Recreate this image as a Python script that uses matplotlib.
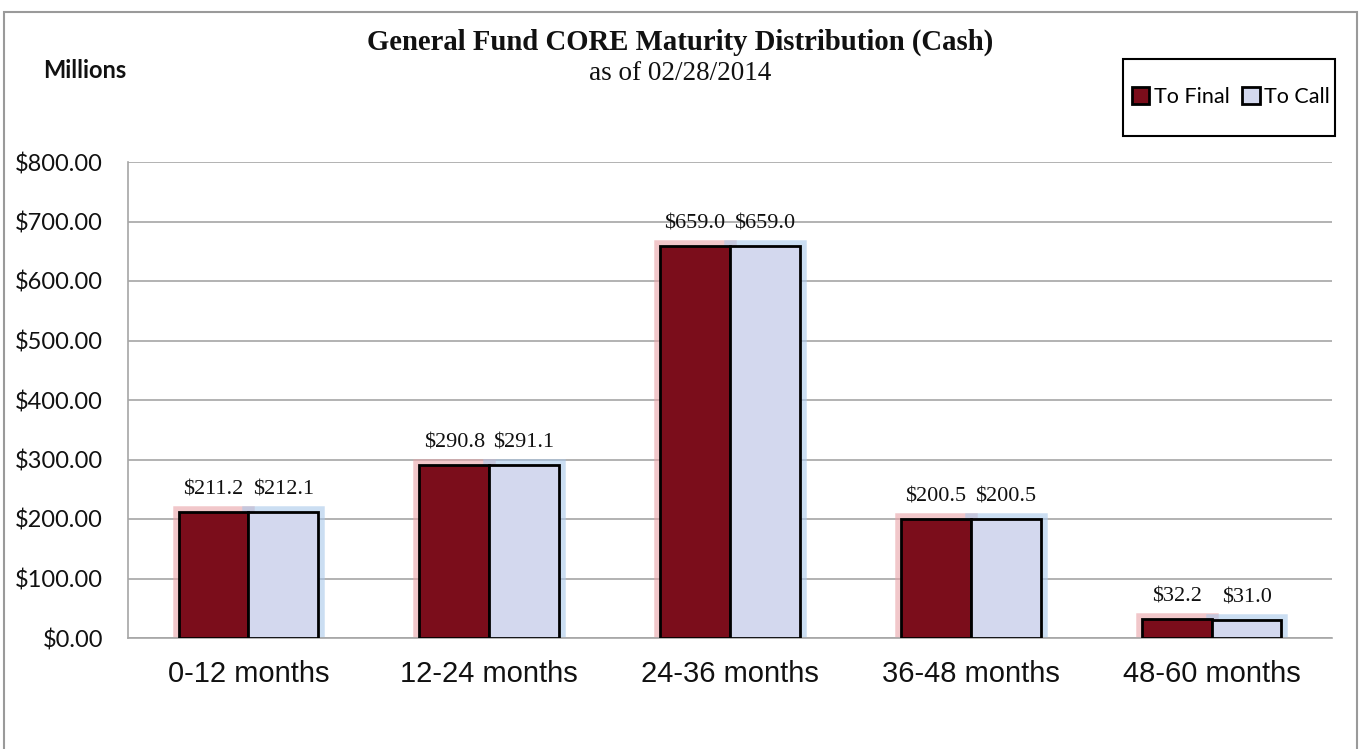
import numpy as np
import matplotlib
matplotlib.use("Agg")
import matplotlib.pyplot as plt
from matplotlib.patches import Rectangle
from matplotlib.ticker import StrMethodFormatter

# chart data (millions)
categories = ["0-12 months", "12-24 months", "24-36 months", "36-48 months", "48-60 months"]
to_final = [211.2, 290.8, 659.0, 200.5, 32.2]
to_call = [212.1, 291.1, 659.0, 200.5, 31.0]
series_names = ["To Final", "To Call"]

red = "#7B0D1B"
lavender = "#D3D8EE"
red_glow = "#E9A3A8"
blue_glow = "#A9C8EA"
grid_grey = "#A6A6A6"

W, H = 1365, 749
fig = plt.figure(figsize=(W / 100, H / 100), dpi=100)
fig.patch.set_facecolor("white")

ax = fig.add_axes([128 / W, 1 - 638 / H, 1204 / W, 476 / H])

x = np.arange(len(categories))
width = 0.29

# soft glow behind each bar
ax.bar(x - width / 2, to_final, width, color="none", edgecolor=red_glow,
       linewidth=9, alpha=0.6, zorder=2)
ax.bar(x + width / 2, to_call, width, color="none", edgecolor=blue_glow,
       linewidth=9, alpha=0.6, zorder=2)

bars_final = ax.bar(x - width / 2, to_final, width, color=red, edgecolor="black",
                    linewidth=2, zorder=3, label=series_names[0])
bars_call = ax.bar(x + width / 2, to_call, width, color=lavender, edgecolor="black",
                   linewidth=2, zorder=3, label=series_names[1])

for bars, vals in [(bars_final, to_final), (bars_call, to_call)]:
    ax.bar_label(bars, labels=[f"${v:.1f}" for v in vals], padding=9,
                 fontsize=16, family="Liberation Serif", color="#111111", zorder=4)

ax.set_xlim(-0.5, len(categories) - 0.5)
ax.set_ylim(0, 800)
ax.set_yticks(np.arange(0, 801, 100))
ax.yaxis.set_major_formatter(StrMethodFormatter("${x:,.2f}"))
ax.set_xticks(x)
ax.set_xticklabels(categories)

ax.set_axisbelow(True)
ax.yaxis.grid(True, color=grid_grey, linewidth=1.2)
for side in ["top", "right"]:
    ax.spines[side].set_visible(False)
for side in ["left", "bottom"]:
    ax.spines[side].set_color(grid_grey)
    ax.spines[side].set_linewidth(1.2)

ax.tick_params(axis="y", length=0, pad=18, labelsize=17, labelcolor="#111111")
ax.tick_params(axis="x", length=0, pad=16, labelsize=21, labelcolor="#111111")
for lab in ax.get_yticklabels():
    lab.set_family("Lato")
for lab in ax.get_xticklabels():
    lab.set_family("Liberation Sans")

# titles
fig.text(0.498, 1 - 50 / H, "General Fund CORE Maturity Distribution (Cash)",
         ha="center", va="baseline", fontsize=20.7, fontweight="bold",
         family="Liberation Serif", color="#111111")
fig.text(0.498, 1 - 80 / H, "as of 02/28/2014", ha="center", va="baseline",
         fontsize=19.5, family="Liberation Serif", color="#111111")
fig.text(43 / W, 1 - 71 / H, "Millions", ha="left", va="center", fontsize=17,
         fontweight="bold", family="Lato", color="#111111")

# legend
fig.legend(handles=[bars_final, bars_call], loc="center",
           bbox_to_anchor=(1231 / W, 1 - 97 / H), ncol=2, frameon=False,
           prop={"family": "Lato", "size": 15.5}, handlelength=0.8,
           handleheight=0.8, handletextpad=0.2, columnspacing=0.6)
fig.add_artist(Rectangle((1123 / W, 1 - 136 / H), 212 / W, 77 / H, fill=False,
                         edgecolor="black", linewidth=1.5,
                         transform=fig.transFigure))

# outer chart border
fig.add_artist(Rectangle((4 / W, -0.02), 1353 / W, 1 - 12 / H + 0.02, fill=False,
                         edgecolor="#9A9A9A", linewidth=1.5,
                         transform=fig.transFigure, clip_on=False))

fig.savefig("out.png", dpi=100)
